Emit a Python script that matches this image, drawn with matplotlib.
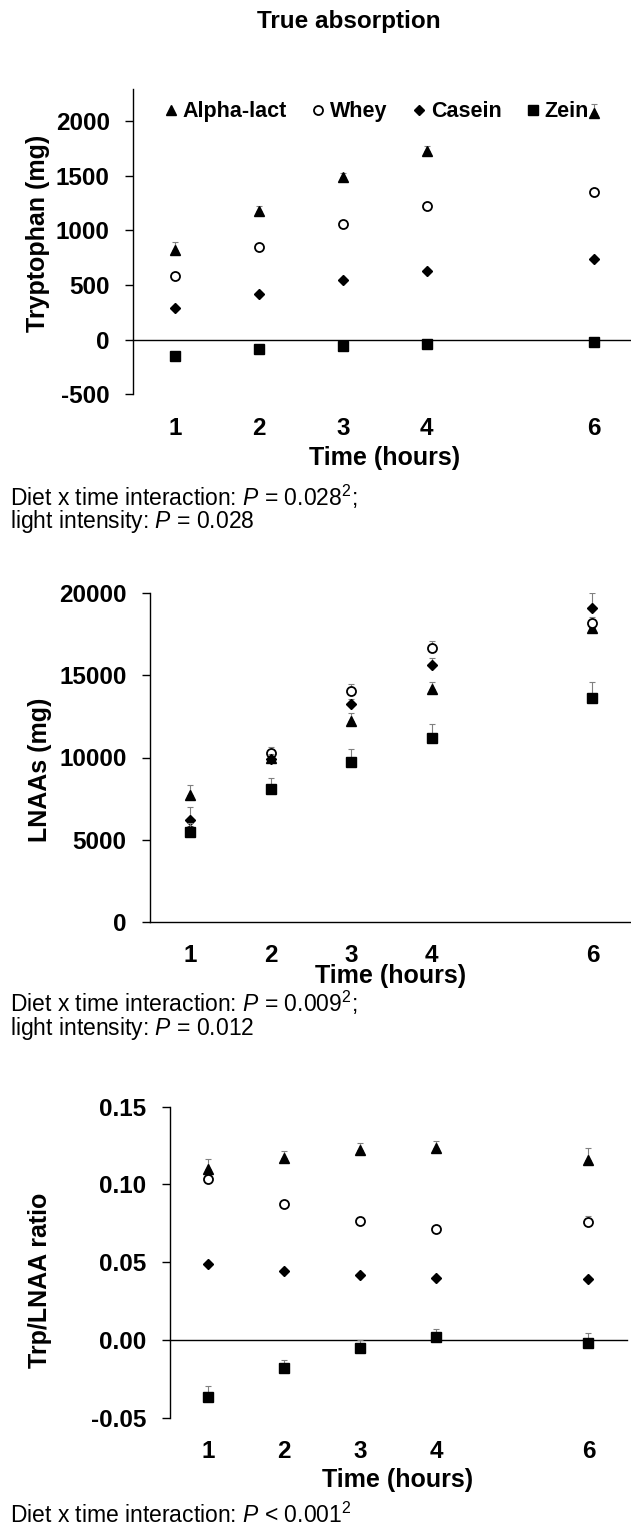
import numpy as np
import matplotlib
matplotlib.use("Agg")
import matplotlib.pyplot as plt

plt.rcParams['font.family'] = ['Liberation Sans', 'DejaVu Sans']
plt.rcParams['mathtext.fontset'] = 'custom'
plt.rcParams['mathtext.rm'] = 'Liberation Sans'
plt.rcParams['mathtext.it'] = 'Liberation Sans:italic'
plt.rcParams['mathtext.bf'] = 'Liberation Sans:bold'
plt.rcParams['axes.unicode_minus'] = False

# ---- data ----
hours = [1, 2, 3, 4, 6]
diets = ['Alpha-lact', 'Whey', 'Casein', 'Zein']

# Tryptophan (mg)
trp_alpha = [817, 1174, 1488, 1723, 2073]
trp_whey = [579, 848, 1061, 1219, 1351]
trp_casein = [290, 421, 543, 628, 738]
trp_zein = [-146, -85, -55, -37, -21]
trp_alpha_se = [73, 45, 37, 52, 85]
trp_whey_se = [20, 15, 15, 15, 20]
trp_casein_se = [15, 15, 15, 15, 15]
trp_zein_se = [15, 10, 10, 10, 10]

# LNAAs (mg)
lnaa_alpha = [7716, 9950, 12241, 14153, 17900]
lnaa_whey = [5550, 10293, 14050, 16650, 18172]
lnaa_casein = [6194, 9909, 13240, 15652, 19086]
lnaa_zein = [5481, 8063, 9708, 11206, 13605]
lnaa_alpha_se = [610, 300, 447, 467, 300]
lnaa_whey_se = [300, 365, 426, 467, 400]
lnaa_casein_se = [810, 300, 300, 400, 913]
lnaa_zein_se = [500, 670, 792, 832, 1015]

# Trp/LNAA ratio
ratio_alpha = [0.1101, 0.1172, 0.1219, 0.1233, 0.1159]
ratio_whey = [0.1034, 0.0876, 0.0768, 0.0711, 0.0758]
ratio_casein = [0.0488, 0.0445, 0.0417, 0.0398, 0.0391]
ratio_zein = [-0.0368, -0.0179, -0.0050, 0.0018, -0.0021]
ratio_alpha_se = [0.0064, 0.0043, 0.0047, 0.0045, 0.0075]
ratio_whey_se = [0.002, 0.002, 0.002, 0.002, 0.0039]
ratio_casein_se = [0.001, 0.001, 0.001, 0.001, 0.001]
ratio_zein_se = [0.0075, 0.0047, 0.0047, 0.0054, 0.0064]

# marker styles per diet
styles = [
    dict(marker='^', ms=7.5, mfc='black', mec='black'),
    dict(marker='o', ms=6.5, mfc='white', mec='black', mew=1.3),
    dict(marker='D', ms=5.0, mfc='black', mec='black'),
    dict(marker='s', ms=7.5, mfc='black', mec='black'),
]

W, H = 631, 1531
fig = plt.figure(figsize=(W / 100, H / 100), dpi=100)


def add_axes_px(left, top, right, bottom):
    return fig.add_axes([left / W, 1 - bottom / H, (right - left) / W, (bottom - top) / H])


def px_to_axes(box, x, y):
    left, top, right, bottom = box
    return (x - left) / (right - left), (bottom - y) / (bottom - top)


def draw_panel(box, series, errors, ylim, yticks, yfmt, ylabel, ylabel_px, xlabel_px,
               zero_line=True):
    ax = add_axes_px(*box)
    for i, (vals, err) in enumerate(zip(series, errors)):
        ax.errorbar(hours, vals, yerr=[np.zeros(len(err)), err], fmt='none',
                    ecolor='#808080', elinewidth=0.8, capsize=2, capthick=0.8,
                    zorder=2 + 2 * i)
        ax.plot(hours, vals, linestyle='none', label=diets[i], zorder=3 + 2 * i,
                **styles[i])
    ax.set_xlim(0.5, 6.5)
    ax.set_ylim(*ylim)
    ax.set_xticks(hours)
    ax.set_yticks(yticks)
    ax.set_yticklabels([yfmt.format(v) for v in yticks])
    for s in ['top', 'right']:
        ax.spines[s].set_visible(False)
    ax.spines['left'].set_linewidth(1.0)
    if zero_line:
        ax.spines['bottom'].set_visible(False)
        ax.axhline(0, color='black', lw=1.0, zorder=1, clip_on=False)
    else:
        ax.spines['bottom'].set_linewidth(1.0)
    ax.tick_params(axis='x', length=0, pad=16, labelsize=17.5)
    ax.tick_params(axis='y', length=6, width=1.0, pad=11, labelsize=17.5)
    for lab in ax.get_xticklabels() + ax.get_yticklabels():
        lab.set_fontweight('bold')
    ax.set_ylabel(ylabel, fontsize=18, fontweight='bold')
    ax.yaxis.set_label_coords(*px_to_axes(box, *ylabel_px))
    ax.set_xlabel('Time (hours)', fontsize=18, fontweight='bold')
    ax.xaxis.set_label_coords(*px_to_axes(box, *xlabel_px))
    ax.xaxis.label.set_va('center')
    ax.yaxis.label.set_va('center')
    return ax


# ---- top: tryptophan ----
box1 = (133.3, 89.3, 636, 394.3)
ax1 = draw_panel(box1, [trp_alpha, trp_whey, trp_casein, trp_zein],
                 [trp_alpha_se, trp_whey_se, trp_casein_se, trp_zein_se],
                 (-500, 2290), [-500, 0, 500, 1000, 1500, 2000], '{:d}',
                 'Tryptophan (mg)', (38, 233), (385, 458))
ax1.legend(loc='center left', bbox_to_anchor=px_to_axes(box1, 164.5, 111.7),
           ncol=4, frameon=False, borderpad=0, borderaxespad=0, numpoints=1,
           handlelength=0.6, handletextpad=0.25, columnspacing=1.15,
           prop={'weight': 'bold', 'size': 15.5})

# ---- middle: LNAAs ----
box2 = (150, 593.3, 632.6, 921.7)
ax2 = draw_panel(box2, [lnaa_alpha, lnaa_whey, lnaa_casein, lnaa_zein],
                 [lnaa_alpha_se, lnaa_whey_se, lnaa_casein_se, lnaa_zein_se],
                 (0, 20000), [0, 5000, 10000, 15000, 20000], '{:d}',
                 'LNAAs (mg)', (40, 770), (391, 976), zero_line=False)

# ---- bottom: ratio ----
box3 = (170, 1106.7, 626.5, 1417.7)
ax3 = draw_panel(box3, [ratio_alpha, ratio_whey, ratio_casein, ratio_zein],
                 [ratio_alpha_se, ratio_whey_se, ratio_casein_se, ratio_zein_se],
                 (-0.05, 0.15), [-0.05, 0.0, 0.05, 0.10, 0.15], '{:.2f}',
                 'Trp/LNAA ratio', (40, 1280), (398, 1480))

# ---- texts ----
fig.text(349 / W, 1 - 21.7 / H, 'True absorption', ha='center', va='center',
         fontsize=17.5, fontweight='bold')

notes = [
    (496.7, r'Diet x time interaction: $\mathit{P}$ = 0.028$^{2}$;'),
    (521.7, r'light intensity: $\mathit{P}$ = 0.028'),
    (1003.3, r'Diet x time interaction: $\mathit{P}$ = 0.009$^{2}$;'),
    (1028.3, r'light intensity: $\mathit{P}$ = 0.012'),
    (1515, r'Diet x time interaction: $\mathit{P}$ < 0.001$^{2}$'),
]
for y, txt in notes:
    fig.text(10 / W, 1 - y / H, txt, ha='left', va='center', fontsize=16.5)

fig.savefig('out.png', dpi=100)
